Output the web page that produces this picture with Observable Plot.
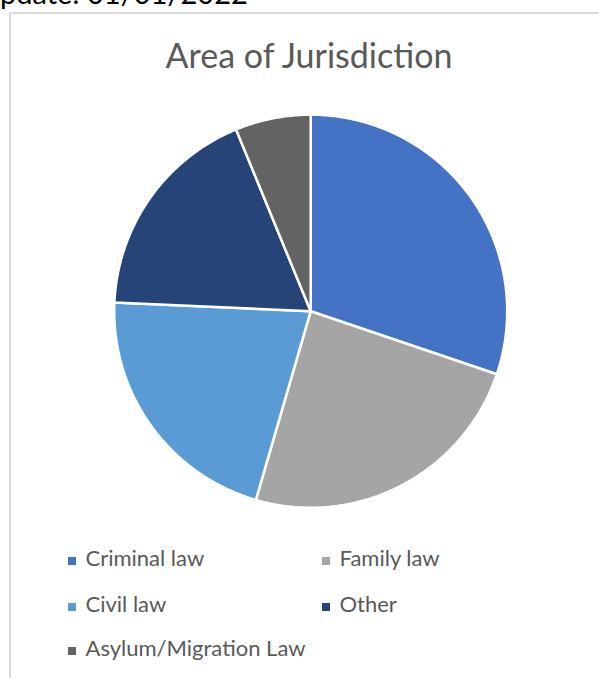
<!DOCTYPE html>
<html>
<head>
<meta charset="utf-8">
<script src="https://cdn.jsdelivr.net/npm/d3@7"></script>
<script src="https://cdn.jsdelivr.net/npm/@observablehq/plot@0.6"></script>
<style>
  html, body { margin: 0; padding: 0; background: #fff; width: 599px; height: 678px; overflow: hidden; position: relative; font-family: Lato, "Open Sans", sans-serif; }
  #top { position: absolute; left: 0; top: -22px; font-size: 29px; line-height: 1; color: #000; white-space: nowrap; }
  #frame { position: absolute; left: 9px; top: 12px; width: 640px; height: 720px; border: 2px solid #dadada; box-sizing: border-box; }
  #title { position: absolute; left: 0; width: 618px; top: 37.5px; text-align: center; font-size: 34px; line-height: 1; color: #595959; white-space: nowrap; }
  #chart { position: absolute; left: 0; top: 0; }
  .item { position: absolute; font-size: 22px; line-height: 1; color: #595959; white-space: nowrap; }
  .sw { position: absolute; width: 8px; height: 8px; }
</style>
</head>
<body>
<div id="top">pdate: 01/01/2022</div>
<div id="frame"></div>
<div id="title">Area of Jurisdiction</div>
<div id="chart"></div>
<div id="legend"></div>
<script>
const categories = ["Criminal law", "Family law", "Civil law", "Other", "Asylum/Migration Law"];
const values = [30.2, 24.3, 21.2, 18.1, 6.2];
const colors = ["#4472C4", "#A5A5A5", "#5B9BD5", "#264478", "#636363"];

// build slice outlines from the data (angles clockwise from 12 o'clock)
const total = d3.sum(values);
const points = [];
let start = 0;
categories.forEach((name, i) => {
  const a0 = start, a1 = start + values[i] / total * 2 * Math.PI;
  start = a1;
  points.push({name, x: 0, y: 0});
  const n = Math.max(2, Math.ceil((a1 - a0) / 0.01));
  for (let k = 0; k <= n; k++) {
    const a = a0 + (a1 - a0) * k / n;
    points.push({name, x: Math.sin(a), y: Math.cos(a)});
  }
  points.push({name, x: 0, y: 0});
});

const R = 196.5, cx = 310.2, cy = 310.7, W = 599, H = 520;
const plot = Plot.plot({
  width: W,
  height: H,
  marginLeft: cx - R,
  marginRight: W - (cx + R),
  marginTop: cy - R,
  marginBottom: H - (cy + R),
  x: {domain: [-1, 1], axis: null},
  y: {domain: [-1, 1], axis: null},
  color: {domain: categories, range: colors},
  style: {background: "transparent"},
  marks: [
    Plot.line(points, {x: "x", y: "y", z: "name", fill: "name", stroke: "white", strokeWidth: 2.5, strokeLinejoin: "miter", curve: "linear"})
  ]
});
document.getElementById("chart").appendChild(plot);

// legend
const legendPos = [
  {left: 68, base: 566.5},
  {left: 322, base: 566.5},
  {left: 68, base: 612.7},
  {left: 322, base: 612.7},
  {left: 68, base: 656.5}
];
const fs = 22;
const legend = document.getElementById("legend");
categories.forEach((name, i) => {
  const p = legendPos[i];
  const sw = document.createElement("div");
  sw.className = "sw";
  sw.style.left = p.left + "px";
  sw.style.top = (p.base - 9.5) + "px";
  sw.style.background = colors[i];
  legend.appendChild(sw);
  const t = document.createElement("div");
  t.className = "item";
  t.style.left = (p.left + 17.5) + "px";
  t.style.top = (p.base - 0.887 * fs) + "px";
  t.textContent = name;
  legend.appendChild(t);
});
</script>
</body>
</html>
